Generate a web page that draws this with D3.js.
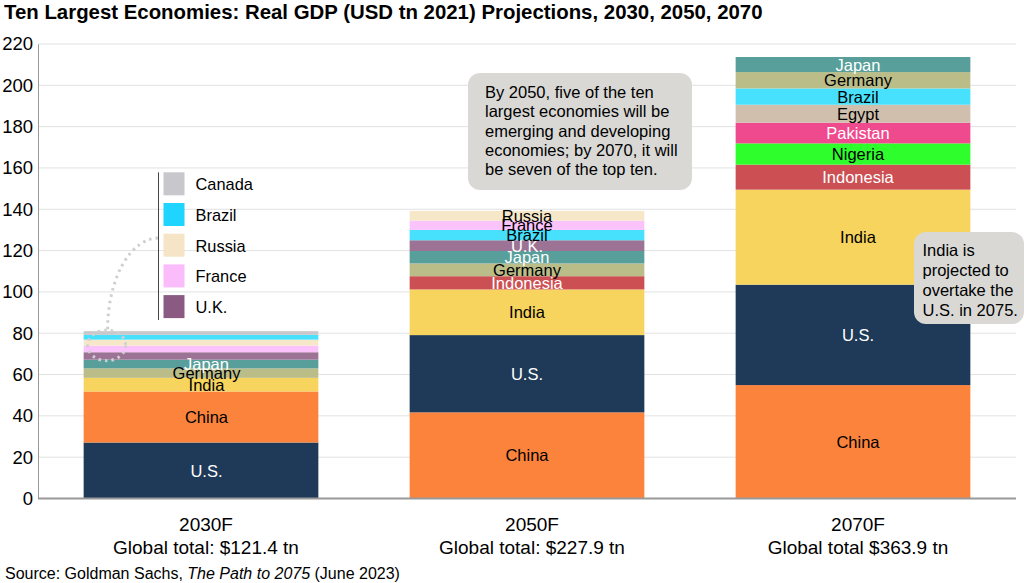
<!DOCTYPE html>
<html>
<head>
<meta charset="utf-8">
<script src="https://cdn.jsdelivr.net/npm/d3@7"></script>
<style>
  body { margin: 0; background: #fff; }
  svg { font-family: Arial, "Liberation Sans", sans-serif; }
</style>
</head>
<body>
<div id="display"></div>
<script>
// periods on the x axis and their captions
const periods = ['2030F', '2050F', '2070F'];
const globalTotals = ['Global total: $121.4 tn', 'Global total: $227.9 tn', 'Global total $363.9 tn'];

// stacked from the bottom up, USD tn (2021)
const countries2030 = ['U.S.', 'China', 'India', 'Germany', 'Japan', 'U.K.', 'France', 'Russia', 'Brazil', 'Canada'];
const values2030 = [27.1, 24.7, 6.6, 4.6, 4.2, 3.6, 3.2, 2.9, 2.3, 1.8];
const labels2030 = ['U.S.', 'China', 'India', 'Germany', 'Japan'];

const countries2050 = ['China', 'U.S.', 'India', 'Indonesia', 'Germany', 'Japan', 'U.K.', 'Brazil', 'France', 'Russia'];
const values2050 = [41.7, 37.4, 22.1, 6.4, 6.2, 6.0, 5.2, 5.0, 4.5, 4.7];

const countries2070 = ['China', 'U.S.', 'India', 'Indonesia', 'Nigeria', 'Pakistan', 'Egypt', 'Brazil', 'Germany', 'Japan'];
const values2070 = [54.9, 48.6, 46.0, 12.1, 10.3, 10.0, 8.7, 7.9, 7.9, 7.3];

const legendCountries = ['Canada', 'Brazil', 'Russia', 'France', 'U.K.'];
const yTicks = [0, 20, 40, 60, 80, 100, 120, 140, 160, 180, 200, 220];

const note1 = ['By 2050, five of the ten', 'largest economies will be', 'emerging and developing',
    'economies; by 2070, it will', 'be seven of the top ten.'];
const note2 = ['India is', 'projected to', 'overtake the', 'U.S. in 2075.'];

const colors = {
    'U.S.': '#1f3a58', 'China': '#fb833c', 'India': '#f7d45e', 'Germany': '#bbbd89',
    'Japan': '#589f9b', 'U.K.': '#9c7394', 'France': '#fbc3fb', 'Russia': '#f7e7c9',
    'Brazil': '#47e1fd', 'Canada': '#c8c8cc', 'Indonesia': '#cb4f53', 'Nigeria': '#2efe2c',
    'Pakistan': '#ef4a8d', 'Egypt': '#d0bfad'
};
const legendColors = { 'Canada': '#c8c7cc', 'Brazil': '#1fd4fe', 'Russia': '#f6e4c6', 'France': '#fbbcfb', 'U.K.': '#8b5a83' };
const whiteText = new Set(['U.S.', 'Japan', 'U.K.', 'Indonesia', 'Pakistan']);

const W = 1024, H = 583;
const plot = { left: 38, right: 1016, top: 44, bottom: 498.5 };

const svg = d3.select('#display').append('svg')
    .attr('width', W).attr('height', H);

const x = d3.scaleBand()
    .domain(periods)
    .range([plot.left, plot.right])
    .paddingInner(0.28)
    .paddingOuter(0.14);

const y = d3.scaleLinear()
    .domain([0, 220])
    .range([plot.bottom, plot.top]);

// title
svg.append('text')
    .attr('x', 4).attr('y', 19)
    .style('font-size', '20.4px').style('font-weight', 'bold')
    .text('Ten Largest Economies: Real GDP (USD tn 2021) Projections, 2030, 2050, 2070');

// gridlines
svg.append('g')
    .selectAll('line')
    .data(yTicks.filter(d => d > 0))
    .join('line')
        .attr('x1', plot.left).attr('x2', plot.right)
        .attr('y1', d => y(d)).attr('y2', d => y(d))
        .attr('stroke', '#e2e2e2').attr('stroke-width', 1);

// y axis
const yAxis = svg.append('g')
    .attr('transform', 'translate(' + plot.left + ',0)')
    .call(d3.axisLeft(y).tickValues(yTicks).tickSize(0).tickPadding(5));
yAxis.select('.domain').attr('stroke', '#9a9a9a');
yAxis.selectAll('text')
    .style('font-size', '18.5px')
    .style('font-family', 'Arial, "Liberation Sans", sans-serif')
    .attr('fill', '#000');

// stacked bars (labels sit a little right of centre in the outer bars)
const series = [
    { period: '2030F', countries: countries2030, values: values2030, labels: labels2030, shift: 5.5 },
    { period: '2050F', countries: countries2050, values: values2050, labels: countries2050, shift: 0 },
    { period: '2070F', countries: countries2070, values: values2070, labels: countries2070, shift: 5 }
];

series.forEach(s => {
    let acc = 0;
    const segs = s.countries.map((c, i) => {
        const seg = { country: c, y0: acc, y1: acc + s.values[i] };
        acc += s.values[i];
        return seg;
    });
    s.segs = segs;

    const g = svg.append('g');
    g.selectAll('rect')
        .data(segs)
        .join('rect')
            .attr('x', x(s.period))
            .attr('width', x.bandwidth())
            .attr('y', d => y(d.y1))
            .attr('height', d => y(d.y0) - y(d.y1))
            .attr('fill', d => colors[d.country]);

    g.selectAll('text')
        .data(segs.filter(d => s.labels.includes(d.country)))
        .join('text')
            .attr('x', x(s.period) + x.bandwidth() / 2 + s.shift)
            .attr('y', d => (y(d.y0) + y(d.y1)) / 2 + 6)
            .attr('text-anchor', 'middle')
            .style('font-size', '16.5px')
            .attr('fill', d => whiteText.has(d.country) ? '#fff' : '#000')
            .text(d => d.country);
});

// x axis baseline
svg.append('line')
    .attr('x1', plot.left).attr('x2', plot.right)
    .attr('y1', plot.bottom).attr('y2', plot.bottom)
    .attr('stroke', '#999').attr('stroke-width', 2);

// period captions
const cap = svg.append('g');
cap.selectAll('text.period')
    .data(periods)
    .join('text')
        .attr('class', 'period')
        .attr('x', d => x(d) + x.bandwidth() / 2 + 5)
        .attr('y', 531)
        .attr('text-anchor', 'middle')
        .style('font-size', '19px')
        .text(d => d);
cap.selectAll('text.total')
    .data(globalTotals)
    .join('text')
        .attr('class', 'total')
        .attr('x', (d, i) => x(periods[i]) + x.bandwidth() / 2 + 5)
        .attr('y', 554)
        .attr('text-anchor', 'middle')
        .style('font-size', '19px')
        .text(d => d);

// legend for the thin 2030 slices
const legendX = 158.5, legendTop = 172.3, legendStep = 30.7;
svg.append('line')
    .attr('x1', legendX).attr('x2', legendX)
    .attr('y1', legendTop).attr('y2', 320)
    .attr('stroke', '#444').attr('stroke-width', 1);
const leg = svg.append('g')
    .selectAll('g')
    .data(legendCountries)
    .join('g')
        .attr('transform', (d, i) => 'translate(' + (legendX + 5) + ',' + (legendTop + i * legendStep) + ')');
leg.append('rect')
    .attr('width', 21).attr('height', 23)
    .attr('fill', d => legendColors[d]);
leg.append('text')
    .attr('x', 32).attr('y', 18)
    .style('font-size', '16.4px')
    .text(d => d);

// dotted ring around the slices and the connector to the legend
const s30 = series[0].segs;
const ringTop = y(s30[s30.length - 1].y1);
const ringBottom = y(s30[4].y1);
const ringCx = x('2030F') + 23;
const ringCy = (ringTop + ringBottom) / 2;
const ringRy = (ringBottom - ringTop) / 2 + 1;
svg.append('ellipse')
    .attr('cx', ringCx).attr('cy', ringCy)
    .attr('rx', 19).attr('ry', ringRy)
    .attr('fill', 'none')
    .attr('stroke', '#cfcfcf').attr('stroke-width', 3)
    .attr('stroke-dasharray', '2.5,4');
const arcStartY = ringTop - 2, arcEndY = 238;
svg.append('path')
    .attr('d', 'M' + (ringCx + 1) + ',' + arcStartY +
        ' A' + (legendX - ringCx - 1) + ',' + (arcStartY - arcEndY) + ' 0 0 1 ' + legendX + ',' + arcEndY)
    .attr('fill', 'none')
    .attr('stroke', '#cfcfcf').attr('stroke-width', 3)
    .attr('stroke-dasharray', '2.5,4');

// callouts
function callout(bx, by, bw, bh, tx, firstBase, step, lines) {
    svg.append('rect')
        .attr('x', bx).attr('y', by)
        .attr('width', bw).attr('height', bh)
        .attr('rx', 12)
        .attr('fill', '#d9d8d5');
    svg.append('g')
        .selectAll('text')
        .data(lines)
        .join('text')
            .attr('x', tx)
            .attr('y', (d, i) => firstBase + i * step)
            .style('font-size', '16.5px')
            .text(d => d);
}
callout(468, 73, 224, 117, 485, 98, 19.3, note1);
callout(914, 232, 110, 92, 922.5, 256, 20, note2);

// source
const src = svg.append('text')
    .attr('x', 5).attr('y', 579)
    .style('font-size', '16px');
src.append('tspan').text('Source: Goldman Sachs, ');
src.append('tspan').style('font-style', 'italic').text('The Path to 2075');
src.append('tspan').text(' (June 2023)');
</script>
</body>
</html>
